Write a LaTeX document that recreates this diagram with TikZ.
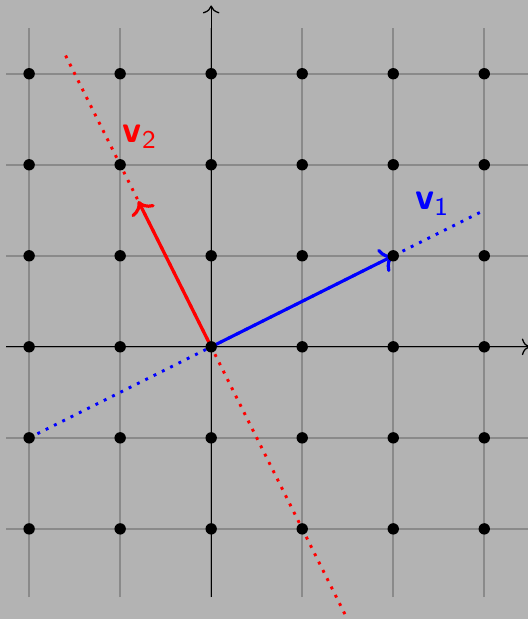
\documentclass[tikz,border=0pt]{standalone}
\usepackage{xcolor}
\usetikzlibrary{arrows.meta}
\definecolor{bggray}{HTML}{B3B3B3}
\definecolor{gridgray}{HTML}{8A8A8A}

\begin{document}
\begin{tikzpicture}[
  >=To,
  gridline/.style={draw=gridgray, line width=0.6pt},
  axisline/.style={->, draw=black, line width=0.4pt},
  latticept/.style={circle, fill=black, minimum size=1.25mm, inner sep=0pt},
  vecarrow/.style={->, line width=1pt},
  spanline/.style={dotted, line width=0.9pt},
  veclabel/.style={font=\large\sffamily}
]
  \useasboundingbox[fill=bggray] (-2.32,-2.99) rectangle (3.48,3.81);

  % grid and axes
  \draw[gridline] (-2.25,-2.75) grid (3.5,3.5);
  \draw[axisline] (-2.25,0) -- (3.5,0);
  \draw[axisline] (0,-2.75) -- (0,3.75);

  \coordinate (o) at (0,0);
  \coordinate (v1) at (2,1);
  \coordinate (v2) at (-0.8,1.6);
  \coordinate (s1a) at (-2,-1);
  \coordinate (s1b) at (3,1.5);
  \coordinate (s2a) at (-1.6,3.2);
  \coordinate (s2b) at (1.5,-3);

  % span of each vector
  \draw[spanline, blue] (s1a) -- (s1b);
  \draw[spanline, red] (s2a) -- (s2b);

  \draw[vecarrow, blue] (o) -- (v1);
  \draw[vecarrow, red] (o) -- (v2);

  % lattice points on top
  \foreach \x in {-2,...,3}
    \foreach \y in {-2,...,3}
      \node[latticept] (p\x\y) at (\x,\y) {};

  \node[veclabel, blue] (l1) at (2.43,1.57) {\textbf{v}\textsubscript{1}};
  \node[veclabel, red] (l2) at (-0.78,2.31) {\textbf{v}\textsubscript{2}};
\end{tikzpicture}
\end{document}
